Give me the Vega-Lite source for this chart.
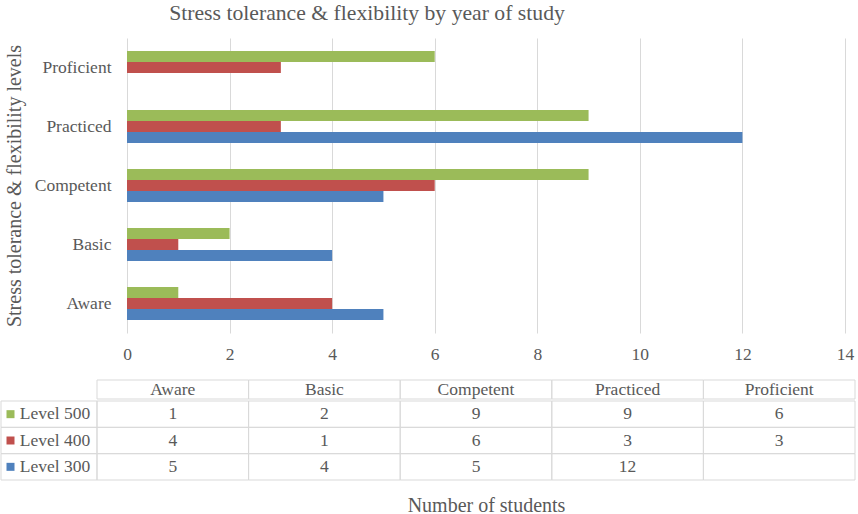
{
  "$schema": "https://vega.github.io/schema/vega-lite/v6.json",
  "background": "white",
  "padding": {"left": 0, "top": 3, "right": 0, "bottom": 0},
  "spacing": 16,
  "config": {
    "font": "Liberation Serif",
    "view": {"stroke": null},
    "axis": {"labelFont": "Liberation Serif", "titleFont": "Liberation Serif", "labelColor": "#595959", "titleColor": "#595959", "titleFontWeight": "normal"},
    "text": {"font": "Liberation Serif"},
    "title": {"font": "Liberation Serif", "fontWeight": "normal", "color": "#595959"}
  },
  "datasets": {
    "students": [
      {"category": "Aware", "series": "Level 500", "value": 1},
      {"category": "Aware", "series": "Level 400", "value": 4},
      {"category": "Aware", "series": "Level 300", "value": 5},
      {"category": "Basic", "series": "Level 500", "value": 2},
      {"category": "Basic", "series": "Level 400", "value": 1},
      {"category": "Basic", "series": "Level 300", "value": 4},
      {"category": "Competent", "series": "Level 500", "value": 9},
      {"category": "Competent", "series": "Level 400", "value": 6},
      {"category": "Competent", "series": "Level 300", "value": 5},
      {"category": "Practiced", "series": "Level 500", "value": 9},
      {"category": "Practiced", "series": "Level 400", "value": 3},
      {"category": "Practiced", "series": "Level 300", "value": 12},
      {"category": "Proficient", "series": "Level 500", "value": 6},
      {"category": "Proficient", "series": "Level 400", "value": 3},
      {"category": "Proficient", "series": "Level 300", "value": null}
    ]
  },
  "vconcat": [
    {
      "width": 718,
      "height": 295,
      "title": {"text": "Stress tolerance & flexibility by year of study", "fontSize": 21.7, "font": "Liberation Serif", "anchor": "middle", "dx": -119, "offset": 13},
      "data": {"name": "students"},
      "mark": {"type": "bar"},
      "encoding": {
        "y": {
          "field": "category", "type": "nominal",
          "sort": ["Proficient", "Practiced", "Competent", "Basic", "Aware"],
          "scale": {"paddingInner": 0.44, "paddingOuter": 0.22},
          "axis": {"title": "Stress tolerance & flexibility levels", "titleFont": "Liberation Serif", "titleFontSize": 20, "titlePadding": 10, "labelFont": "Liberation Serif", "labelFontSize": 17.5, "labelPadding": 16, "domain": false, "ticks": false}
        },
        "yOffset": {"field": "series", "type": "nominal", "sort": ["Level 500", "Level 400", "Level 300"], "scale": {"paddingInner": 0, "paddingOuter": 0}},
        "x": {
          "field": "value", "type": "quantitative",
          "scale": {"domain": [0, 14], "nice": false},
          "axis": {"values": [0, 2, 4, 6, 8, 10, 12, 14], "title": null, "grid": true, "gridColor": "#d9d9d9", "domain": false, "ticks": false, "labelFlush": false, "labelFont": "Liberation Serif", "labelFontSize": 17.5, "labelPadding": 12}
        },
        "color": {
          "field": "series", "type": "nominal",
          "scale": {"domain": ["Level 500", "Level 400", "Level 300"], "range": ["#9BBB59", "#C0504D", "#4F81BD"]},
          "legend": null
        }
      }
    },
    {
      "spacing": 0,
      "vconcat": [
        {
          "width": 728,
          "height": 19,
          "data": {"name": "students"},
          "transform": [{"filter": "datum.series === 'Level 500'"}],
          "layer": [
            {
              "mark": {"type": "rect", "filled": false, "stroke": "#d9d9d9", "strokeWidth": 1},
              "encoding": {
                "x": {"field": "category", "type": "nominal", "sort": ["Aware", "Basic", "Competent", "Practiced", "Proficient"], "scale": {"range": [-30, 728], "paddingInner": 0, "paddingOuter": 0}, "axis": null}
              }
            },
            {
              "mark": {"type": "text", "font": "Liberation Serif", "fontSize": 17.5, "color": "#595959"},
              "encoding": {
                "x": {"field": "category", "type": "nominal", "sort": ["Aware", "Basic", "Competent", "Practiced", "Proficient"], "scale": {"range": [-30, 728], "paddingInner": 0, "paddingOuter": 0}, "axis": null},
                "text": {"field": "category"}
              }
            }
          ]
        },
        {
          "width": 728,
          "height": 79,
          "data": {"name": "students"},
          "resolve": {"scale": {"x": "independent"}, "axis": {"x": "independent"}},
          "layer": [
            {
              "mark": {"type": "rect", "filled": false, "stroke": "#d9d9d9", "strokeWidth": 1},
              "encoding": {
                "x": {"field": "category", "type": "nominal", "sort": ["Aware", "Basic", "Competent", "Practiced", "Proficient"], "scale": {"range": [-30, 728], "paddingInner": 0, "paddingOuter": 0},
                  "axis": {"title": "Number of students", "titleFont": "Liberation Serif", "titleFontSize": 20, "titlePadding": 15, "titleX": 359, "labels": false, "ticks": false, "domain": false, "grid": false}},
                "y": {"field": "series", "type": "nominal", "sort": ["Level 500", "Level 400", "Level 300"], "scale": {"paddingInner": 0, "paddingOuter": 0}, "axis": null}
              }
            },
            {
              "transform": [{"filter": "isValid(datum.value)"}],
              "mark": {"type": "text", "font": "Liberation Serif", "fontSize": 17.5, "color": "#595959"},
              "encoding": {
                "x": {"field": "category", "type": "nominal", "sort": ["Aware", "Basic", "Competent", "Practiced", "Proficient"], "scale": {"range": [-30, 728], "paddingInner": 0, "paddingOuter": 0}, "axis": null},
                "y": {"field": "series", "type": "nominal", "sort": ["Level 500", "Level 400", "Level 300"], "scale": {"paddingInner": 0, "paddingOuter": 0}, "axis": null},
                "text": {"field": "value", "type": "quantitative"}
              }
            },
            {
              "transform": [{"filter": "datum.category === 'Aware'"}],
              "mark": {"type": "rect", "filled": false, "stroke": "#d9d9d9", "strokeWidth": 1},
              "encoding": {
                "x": {"datum": "legend", "type": "nominal", "scale": {"range": [-126, -30], "paddingInner": 0, "paddingOuter": 0}, "axis": null},
                "y": {"field": "series", "type": "nominal", "sort": ["Level 500", "Level 400", "Level 300"], "scale": {"paddingInner": 0, "paddingOuter": 0}, "axis": null}
              }
            },
            {
              "transform": [{"filter": "datum.category === 'Aware'"}],
              "mark": {"type": "point", "shape": "square", "filled": true, "size": 64, "opacity": 1, "xOffset": -38.5},
              "encoding": {
                "x": {"datum": "legend", "type": "nominal", "scale": {"range": [-126, -30], "paddingInner": 0, "paddingOuter": 0}, "axis": null},
                "y": {"field": "series", "type": "nominal", "sort": ["Level 500", "Level 400", "Level 300"], "scale": {"paddingInner": 0, "paddingOuter": 0}, "axis": null},
                "color": {"field": "series", "type": "nominal", "scale": {"domain": ["Level 500", "Level 400", "Level 300"], "range": ["#9BBB59", "#C0504D", "#4F81BD"]}, "legend": null}
              }
            },
            {
              "transform": [{"filter": "datum.category === 'Aware'"}],
              "mark": {"type": "text", "font": "Liberation Serif", "fontSize": 17.5, "color": "#595959", "align": "left", "dx": -29.3},
              "encoding": {
                "x": {"datum": "legend", "type": "nominal", "scale": {"range": [-126, -30], "paddingInner": 0, "paddingOuter": 0}, "axis": null},
                "y": {"field": "series", "type": "nominal", "sort": ["Level 500", "Level 400", "Level 300"], "scale": {"paddingInner": 0, "paddingOuter": 0}, "axis": null},
                "text": {"field": "series"}
              }
            }
          ]
        }
      ]
    }
  ]
}
